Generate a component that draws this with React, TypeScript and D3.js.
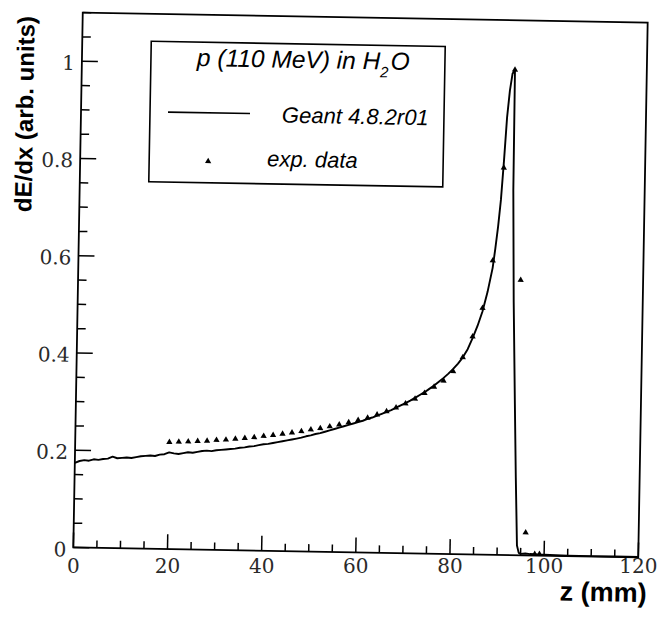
import React from 'react';
import * as d3 from 'd3';

// Geant4 simulation curve (z in mm, dE/dx arb. units)
const simZ = [
  0, 1, 2, 3, 4, 5, 6, 7, 8, 9, 10, 11, 12, 13, 14, 15, 16, 17, 18, 19,
  20, 21, 22, 23, 24, 25, 26, 27, 28, 29, 30, 31, 32, 33, 34, 35, 36, 37, 38, 39,
  40, 41, 42, 43, 44, 45, 46, 47, 48, 49, 50, 51, 52, 53, 54, 55, 56, 57, 58, 59,
  60, 61, 62, 63, 64, 65, 66, 67, 68, 69, 70, 71, 72, 73, 74, 75, 76, 77, 78, 79,
  80, 81, 82, 83, 84, 85, 86, 87, 88, 88.5, 89, 89.5, 90, 90.5, 91, 91.5, 92,
  92.1, 92.6, 93.2, 93.7, 94.2, 94.6, 95, 96, 97, 98, 99, 100, 105, 110, 115, 120,
];
const simV = [
  0.174, 0.178, 0.18, 0.179, 0.182, 0.181, 0.183, 0.184, 0.188, 0.185, 0.186, 0.187, 0.186, 0.188, 0.19, 0.191, 0.192, 0.191, 0.194, 0.195,
  0.199, 0.197, 0.196, 0.198, 0.2, 0.199, 0.201, 0.203, 0.204, 0.203, 0.205, 0.206, 0.207, 0.208, 0.209, 0.211, 0.212, 0.214, 0.215, 0.217,
  0.219, 0.22, 0.222, 0.224, 0.226, 0.228, 0.23, 0.232, 0.234, 0.237, 0.239, 0.242, 0.244, 0.247, 0.25, 0.253, 0.256, 0.259, 0.262, 0.265,
  0.268, 0.271, 0.275, 0.278, 0.282, 0.286, 0.29, 0.294, 0.299, 0.304, 0.309, 0.314, 0.32, 0.326, 0.332, 0.339, 0.346, 0.354, 0.362, 0.371,
  0.381, 0.392, 0.405, 0.422, 0.445, 0.47, 0.5, 0.54, 0.59, 0.63, 0.675, 0.73, 0.81, 0.9, 0.955, 0.99, 0.997,
  0.75, 0.52, 0.32, 0.16, 0.02, 0.005, 0.003, 0.004, 0.003, 0.003, 0.002, 0.002, 0.001, 0.001, 0.001, 0.001,
];

// experimental data (triangles)
const expZ = [
  20, 22, 24, 26, 28, 30, 32, 34, 36, 38, 40, 42, 44, 46, 48, 50, 52, 54, 56, 58,
  60, 62, 64, 66, 68, 70, 72, 74, 76, 78, 80, 82, 84, 86, 88, 90, 92, 94, 96, 98, 99,
];
const expV = [
  0.22, 0.221, 0.222, 0.223, 0.224, 0.226, 0.227, 0.229, 0.231, 0.233, 0.236, 0.238, 0.241, 0.244, 0.247, 0.251, 0.254, 0.258, 0.262, 0.267,
  0.272, 0.277, 0.284, 0.291, 0.299, 0.308, 0.318, 0.33, 0.343, 0.356, 0.376, 0.405, 0.448, 0.507, 0.605, 0.796, 0.998, 0.566, 0.047, 0.003, 0.003,
];

const xMajorTicks = [0, 20, 40, 60, 80, 100, 120];
const xTickLabels = ['0', '20', '40', '60', '80', '100', '120'];
const yMajorTicks = [0, 0.2, 0.4, 0.6, 0.8, 1];
const yTickLabels = ['0', '0.2', '0.4', '0.6', '0.8', '1'];

const xTitle = 'z (mm)';
const yTitle = 'dE/dx (arb. units)';
const legendTitleMain = 'p (110 MeV) in H';
const legendTitleSub = '2';
const legendTitleEnd = 'O';
const legendSim = 'Geant 4.8.2r01';
const legendExp = 'exp. data';

const SERIF = "'DejaVu Serif', 'Liberation Serif', serif";
const SANS = "'Liberation Sans', Arimo, Arial, Helvetica, sans-serif";

export default function App() {
  const W = 658;
  const H = 617;
  const x = d3.scaleLinear().domain([0, 120]).range([78, 643]);
  const y = d3.scaleLinear().domain([0, 1.1]).range([552.5, 17.5]);
  const xMinor = d3.range(0, 120.001, 5);
  const yMinor = d3.range(0, 1.1001, 0.05);

  const simPts: [number, number][] = simZ.map((z, i) => [z, simV[i]]);
  const line = d3
    .line<[number, number]>()
    .x((d) => x(d[0]))
    .y((d) => y(d[1]));
  const tri = d3.symbol().type(d3.symbolTriangle).size(17)() as string;

  const [x0, x1] = x.range();
  const [y0, y1] = y.range();
  const tickCol = '#2a2a2a';

  return (
    <svg
      width={W}
      height={H}
      style={{ position: 'absolute', left: 0, top: 0, background: '#fff' }}
    >
      <rect x={0} y={0} width={W} height={H} fill="#fff" />
      {/* x tick labels sit level on the scanned page */}
      {xMajorTicks.map((t, i) => (
        <text
          key={'xl' + t}
          x={x(t) - 4.7}
          y={573}
          textAnchor="middle"
          fontFamily={SERIF}
          fontSize={20}
          fill={tickCol}
        >
          {xTickLabels[i]}
        </text>
      ))}
      <g transform="rotate(1.01 360.5 285)">
        {/* frame */}
        <rect
          x={x0}
          y={y1}
          width={x1 - x0}
          height={y0 - y1}
          fill="none"
          stroke="#000"
          strokeWidth={1.8}
        />
        {/* x ticks */}
        {xMinor.map((t) => {
          const major = xMajorTicks.some((m) => Math.abs(m - t) < 1e-6);
          return (
            <line
              key={'xm' + t}
              x1={x(t)}
              x2={x(t)}
              y1={y0}
              y2={y0 - (major ? 15 : 7.5)}
              stroke="#000"
              strokeWidth={1.5}
            />
          );
        })}
        {/* y ticks */}
        {yMinor.map((t) => {
          const major = yMajorTicks.some((m) => Math.abs(m - t) < 1e-6);
          return (
            <line
              key={'ym' + t}
              x1={x0}
              x2={x0 + (major ? 16 : 8.5)}
              y1={y(t)}
              y2={y(t)}
              stroke="#000"
              strokeWidth={1.5}
            />
          );
        })}
        {yMajorTicks.map((t, i) => (
          <text
            key={'yl' + t}
            x={x0 - 7}
            y={y(t) + 9}
            textAnchor="end"
            fontFamily={SERIF}
            fontSize={20}
            fill={tickCol}
          >
            {yTickLabels[i]}
          </text>
        ))}
        {/* axis titles */}
        <text
          x={652}
          y={597}
          textAnchor="end"
          fontFamily={SANS}
          fontWeight="bold"
          fontSize={27}
          fill="#000"
        >
          {xTitle}
        </text>
        <text
          transform="translate(30,120) rotate(-90)"
          textAnchor="middle"
          fontFamily={SANS}
          fontWeight="bold"
          fontSize={24}
          fill="#000"
        >
          {yTitle}
        </text>
        {/* simulation */}
        <path
          d={line(simPts) || ''}
          fill="none"
          stroke="#000"
          strokeWidth={1.9}
          strokeLinejoin="round"
        />
        {/* data */}
        {expZ.map((z, i) => (
          <path
            key={'e' + i}
            d={tri}
            transform={`translate(${x(z)},${y(expV[i])})`}
            fill="#000"
          />
        ))}
        {/* legend */}
        <rect
          x={147}
          y={45}
          width={294}
          height={140.5}
          fill="#fff"
          stroke="#000"
          strokeWidth={1.6}
        />
        <text
          x={193}
          y={69}
          fontFamily={SANS}
          fontStyle="italic"
          fontSize={24.5}
          fill="#000"
        >
          {legendTitleMain}
          <tspan dx={0} dy={8} fontSize={15}>
            {legendTitleSub}
          </tspan>
          <tspan dx={2} dy={-8}>
            {legendTitleEnd}
          </tspan>
        </text>
        <line x1={165} x2={247} y1={115.5} y2={115.5} stroke="#000" strokeWidth={1.6} />
        <text
          x={279}
          y={124}
          fontFamily={SANS}
          fontStyle="italic"
          fontSize={22}
          fill="#000"
        >
          {legendSim}
        </text>
        <path d={tri} transform="translate(206,164)" fill="#000" />
        <text
          x={265}
          y={168}
          fontFamily={SANS}
          fontStyle="italic"
          fontSize={22}
          fill="#000"
        >
          {legendExp}
        </text>
      </g>
    </svg>
  );
}
